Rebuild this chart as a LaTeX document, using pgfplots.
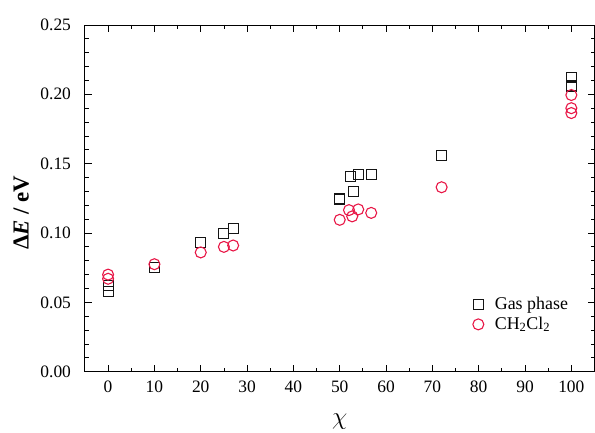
\documentclass[border=0pt]{standalone}
\usepackage{fontspec}
\setmainfont{Liberation Serif}
\usepackage{pgfplots}
\pgfplotsset{compat=1.18}
\definecolor{gasblack}{RGB}{20,20,20}
\definecolor{solvred}{RGB}{232,22,70}

\begin{document}
\fontsize{17.5}{20}\selectfont
\begin{tikzpicture}
\begin{axis}[
  scale only axis, width=510bp, height=347bp,
  xmin=-5, xmax=105, ymin=0, ymax=0.25,
  xtick={0,10,...,100}, minor x tick num=1,
  ytick={0,0.05,...,0.25}, minor y tick num=4,
  yticklabel style={/pgf/number format/fixed, /pgf/number format/fixed zerofill, /pgf/number format/precision=2},
  /pgf/number format/assume math mode=true,
  tick align=inside, major tick length=7bp, minor tick length=4bp,
  tick style={black, line width=0.8pt}, axis line style={line width=0.9pt},
  xticklabel style={yshift=-3bp}, yticklabel style={xshift=-8bp},
  xlabel={\fontsize{26}{28}\selectfont$\chi$},
  ylabel={\fontsize{23}{26}\selectfont\textbf{Δ\textit{E} / eV}},
  xlabel style={at={([yshift=-50bp]rel axis cs:0.5,0)}, anchor=center},
  ylabel style={at={([xshift=-50bp]rel axis cs:0,0.458)}, anchor=south},
  legend style={draw=none, fill=none, at={(0.755,0.228)}, anchor=north west,
    font=\fontsize{18}{21}\selectfont, row sep=1bp},
  legend cell align=left,
]
\addplot[only marks, mark=square, mark size=5bp, gasblack, line width=1.1pt] coordinates {
(0,0.058) (0,0.062) (10,0.075) (20,0.093) (25,0.0995) (27,0.103)
(50,0.1245) (52.3,0.141) (53,0.130) (54,0.142) (56.8,0.142)
(72,0.156) (100,0.212) (100,0.206)};
\addlegendentry{\hspace{9bp}Gas phase}
\addplot[only marks, mark=o, mark size=5.5bp, solvred, line width=1.1pt] coordinates {
(0,0.067) (0,0.070) (10,0.0775) (20,0.086) (25,0.090) (27,0.091)
(50,0.1095) (52,0.1165) (52.7,0.112) (54,0.117) (56.8,0.1145)
(72,0.133) (100,0.1995) (100,0.190) (100,0.1865)};
\addlegendentry{\hspace{9bp}CH\textsubscript{2}Cl\textsubscript{2}}
\end{axis}
\pgfresetboundingbox
\path ([xshift=-85bp,yshift=-61bp]current axis.south west) rectangle ([xshift=0.5bp,yshift=25bp]current axis.north east);
\end{tikzpicture}
\end{document}
